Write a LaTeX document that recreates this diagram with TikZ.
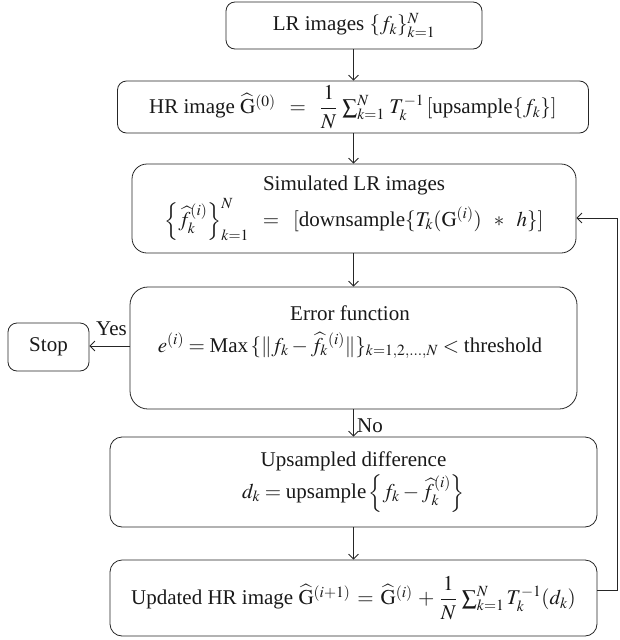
\documentclass[tikz,border=0pt]{standalone}
\usepackage{mathptmx}
\usepackage{amsmath}
\usepackage[no-math]{fontspec}
\setmainfont{Liberation Serif}
\usetikzlibrary{arrows.meta}
\tikzset{
  box/.style={draw=black!85, rounded corners=9pt, line width=0.8pt, inner sep=0pt, align=center, text=black!90},
  arr/.style={draw=black!85, line width=0.8pt, -{Straight Barb[length=5pt,width=10pt,line width=0.8pt]}},
  lbl/.style={text=black!90, inner sep=0pt},
}
\begin{document}
\begin{tikzpicture}[x=1pt,y=-1pt,font=\fontsize{21}{26}\selectfont]
\useasboundingbox (0,0) rectangle (619,640);
\node[box, minimum width=256pt, minimum height=47pt] (lr) at (354,25.5) {LR images $\{f_k\}_{k=1}^{N}$};
\node[box, minimum width=471pt, minimum height=52pt] (hr) at (353,107) {HR image $\widehat{\mathrm{G}}^{(0)} \;\;=\;\; \dfrac{1}{N}\,\sum\nolimits_{k=1}^{N}\, T_k^{-1}\,[\text{upsample}\{f_k\}]$};
\node[box, rounded corners=15pt, minimum width=444pt, minimum height=89pt] (sim) at (354,208.5) {Simulated LR images\\[2pt] $\left\{\widehat{f}_k^{(i)}\right\}_{k=1}^{N} \;\;=\;\; [\text{downsample}\{T_k(\mathrm{G}^{(i)}) \;\;*\;\; h\}]$};
\node[box, rounded corners=18pt, minimum width=447pt, minimum height=122pt] (err) at (353.5,348) {};
\node[lbl, align=center] (errt) at (350,332) {Error function\\[6pt] $e^{(i)} = \text{Max}\,\{\|f_k - \widehat{f}_k{}^{(i)}\|\}_{k=1,2,\ldots,N} < \text{threshold}$};
\node[box, minimum width=81pt, minimum height=48pt] (stop) at (48.5,347) {Stop};
\node[box, rounded corners=12pt, minimum width=487pt, minimum height=90pt] (up) at (353.5,482) {Upsampled difference\\[2pt] $d_k = \text{upsample}\left\{f_k - \widehat{f}_k^{(i)}\right\}$};
\node[box, rounded corners=12pt, minimum width=487pt, minimum height=76pt] (upd) at (353.5,598) {Updated HR image $\widehat{\mathrm{G}}^{(i+1)} \,=\, \widehat{\mathrm{G}}^{(i)} \,+\, \dfrac{1}{N}\,\sum\nolimits_{k=1}^{N} T_k^{-1}(d_k)$};
\coordinate (lp) at (617,0);
\draw[arr] (lr.south -| 353.5,0) -- (hr.north -| 353.5,0);
\draw[arr] (hr.south -| 353.5,0) -- (sim.north -| 353.5,0);
\draw[arr] (sim.south -| 353.5,0) -- (err.north -| 353.5,0);
\draw[arr] (err.south -| 353.5,0) -- (up.north -| 353.5,0);
\draw[arr] (up.south -| 353.5,0) -- (upd.north -| 353.5,0);
\draw[arr] (err.west |- 0,346) -- (stop.east |- 0,346);
\draw[arr] ([yshift=8pt]upd.east) -- ([yshift=8pt]upd.east -| lp) |- ([yshift=-9.5pt]sim.east);
\node[lbl, anchor=base west] (yes) at (96,335) {Yes};
\node[lbl, anchor=base west] (no) at (357,432) {No};
\end{tikzpicture}
\end{document}
